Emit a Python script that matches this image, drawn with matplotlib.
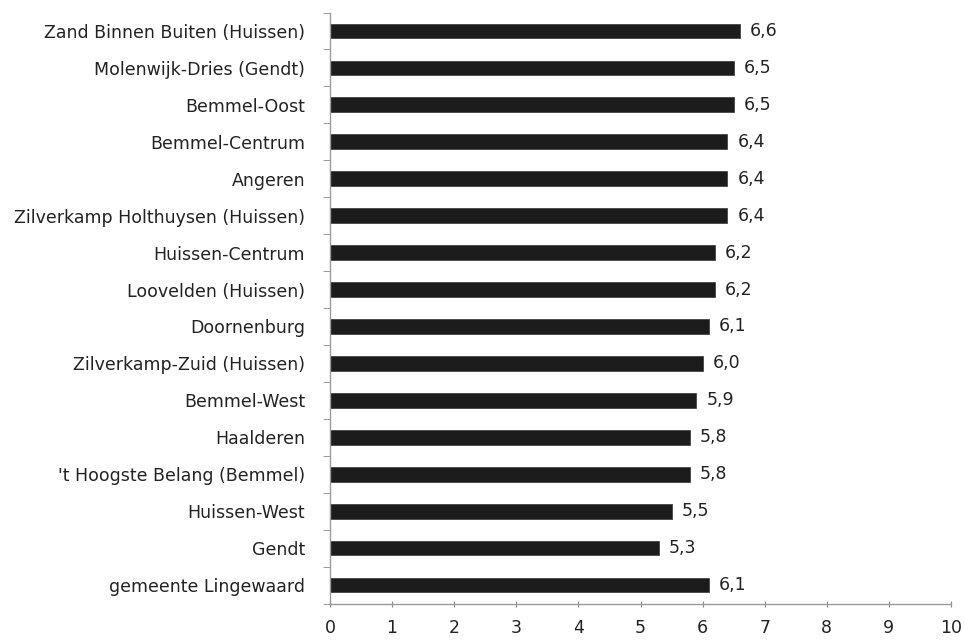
import numpy as np
import matplotlib.pyplot as plt

plt.rcParams['font.family'] = ['DejaVu Sans']

wijken = ['Zand Binnen Buiten (Huissen)', 'Molenwijk-Dries (Gendt)', 'Bemmel-Oost',
          'Bemmel-Centrum', 'Angeren', 'Zilverkamp Holthuysen (Huissen)',
          'Huissen-Centrum', 'Loovelden (Huissen)', 'Doornenburg',
          'Zilverkamp-Zuid (Huissen)', 'Bemmel-West', 'Haalderen',
          "'t Hoogste Belang (Bemmel)", 'Huissen-West', 'Gendt', 'gemeente Lingewaard']
cijfers = [6.6, 6.5, 6.5, 6.4, 6.4, 6.4, 6.2, 6.2, 6.1, 6.0, 5.9, 5.8, 5.8, 5.5, 5.3, 6.1]
xticks = list(range(0, 11))

fig = plt.figure(figsize=(9.65, 6.41), dpi=100)
ax = fig.add_axes([330/965, 1-603.5/641, (951-330)/965, (603.5-12.5)/641])

y = np.arange(len(wijken))
ax.barh(y, cijfers, height=0.4, color='#1c1c1c', edgecolor='#444444', linewidth=0.6)
for yi, v in zip(y, cijfers):
    ax.text(v + 0.16, yi, f'{v:.1f}'.replace('.', ','), va='center', ha='left',
            fontsize=12.5, color='#222222')

ax.set_ylim(len(wijken) - 0.5, -0.5)
ax.set_xlim(0, 10)
ax.set_yticks(y)
ax.set_yticklabels(wijken, fontsize=12.5, color='#222222')
ax.set_yticks(np.arange(-0.5, len(wijken)), minor=True)
ax.tick_params(axis='y', which='major', length=0, pad=18)
ax.tick_params(axis='y', which='minor', length=5, color='#888888', direction='out')
ax.set_xticks(xticks)
ax.set_xticklabels([str(t) for t in xticks], fontsize=12.5, color='#222222')
ax.tick_params(axis='x', length=4, color='#888888', direction='inout', pad=9)

for s in ['top', 'right']:
    ax.spines[s].set_visible(False)
for s in ['left', 'bottom']:
    ax.spines[s].set_color('#999999')
    ax.spines[s].set_linewidth(1)

fig.savefig('out.png', dpi=100)
